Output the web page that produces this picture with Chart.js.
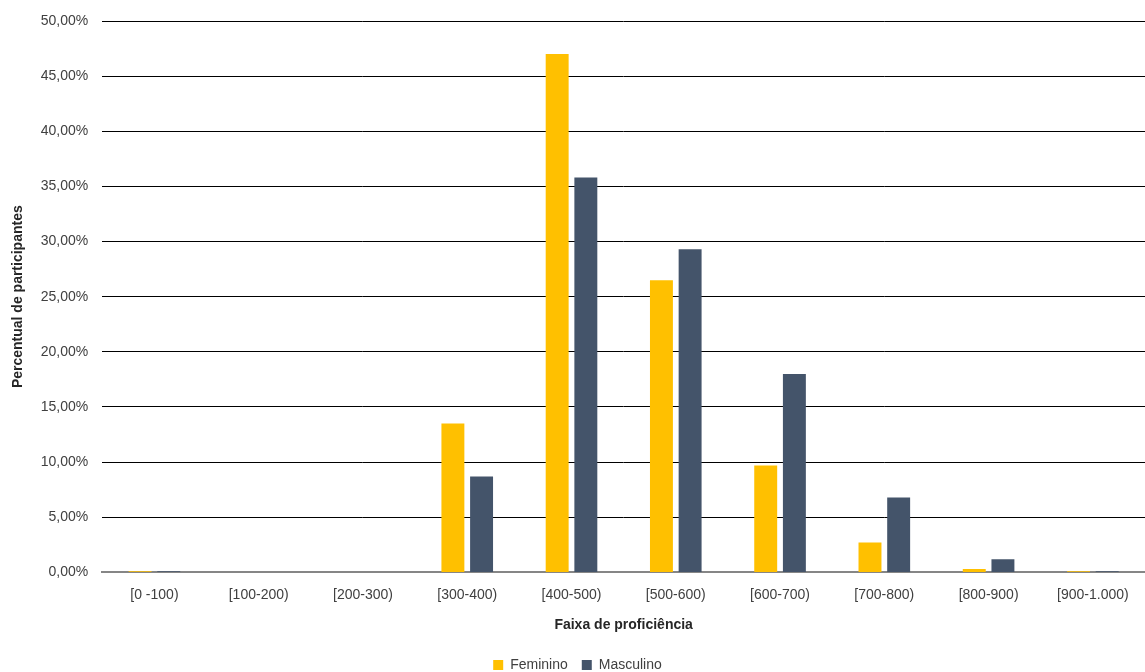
<!DOCTYPE html>
<html>
<head>
<meta charset="utf-8">
<script src="https://cdn.jsdelivr.net/npm/chart.js@4"></script>
<style>
  html, body { margin: 0; padding: 0; background: #fff; }
  #wrap { width: 1145px; height: 672px; }
</style>
</head>
<body>
<div id="wrap"><canvas id="chart"></canvas></div>
<script>
// Faixas de proficiência e percentuais por sexo
var faixas = ['[0 -100)', '[100-200)', '[200-300)', '[300-400)', '[400-500)',
              '[500-600)', '[600-700)', '[700-800)', '[800-900)', '[900-1.000)'];
var feminino = [0.1, 0, 0, 13.5, 47.0, 26.5, 9.7, 2.7, 0.3, 0.1];
var masculino = [0.1, 0, 0, 8.7, 35.8, 29.3, 18.0, 6.8, 1.2, 0.1];

var fontFamily = "'Liberation Sans', Arial, sans-serif";

// Formata o valor como "35,00%"
function pct(v) {
    return v.toFixed(2).replace('.', ',') + '%';
}

var config = {
    type: 'bar',
    data: {
        labels: faixas,
        datasets: [
            { label: 'Feminino', data: feminino, backgroundColor: '#FFC000' },
            { label: 'Masculino', data: masculino, backgroundColor: '#44546A' }
        ]
    },
    options: {
        responsive: true,
        maintainAspectRatio: false,
        animation: false,
        layout: { padding: { top: 6, right: 0, left: 10, bottom: -10 } },
        datasets: { bar: { categoryPercentage: 0.55, barPercentage: 0.8 } },
        plugins: {
            tooltip: { enabled: false },
            legend: {
                position: 'bottom',
                labels: {
                    boxWidth: 10,
                    boxHeight: 10,
                    padding: 14,
                    color: '#404040',
                    font: { family: fontFamily, size: 14 }
                }
            }
        },
        scales: {
            x: {
                grid: { display: false, drawTicks: false },
                border: { display: true, color: '#868686', width: 2 },
                ticks: {
                    padding: 14,
                    color: '#404040',
                    maxRotation: 0,
                    font: { family: fontFamily, size: 14 }
                },
                title: {
                    display: true,
                    text: 'Faixa de proficiência',
                    color: '#262626',
                    padding: { top: 0, bottom: 10 },
                    font: { family: fontFamily, size: 14, weight: 'bold' }
                }
            },
            y: {
                min: 0,
                max: 50,
                border: { display: false },
                grid: {
                    drawTicks: false,
                    color: '#000',
                    lineWidth: 1
                },
                ticks: {
                    stepSize: 5,
                    padding: 14,
                    color: '#404040',
                    font: { family: fontFamily, size: 14, lineHeight: 1 },
                    callback: (value) => pct(value)
                },
                title: {
                    display: true,
                    text: 'Percentual de participantes',
                    color: '#262626',
                    padding: { top: 0, bottom: 0 },
                    font: { family: fontFamily, size: 14, weight: 'bold' }
                }
            }
        }
    }
};

var chartObj = new Chart(document.getElementById('chart'), config);
</script>
</body>
</html>
